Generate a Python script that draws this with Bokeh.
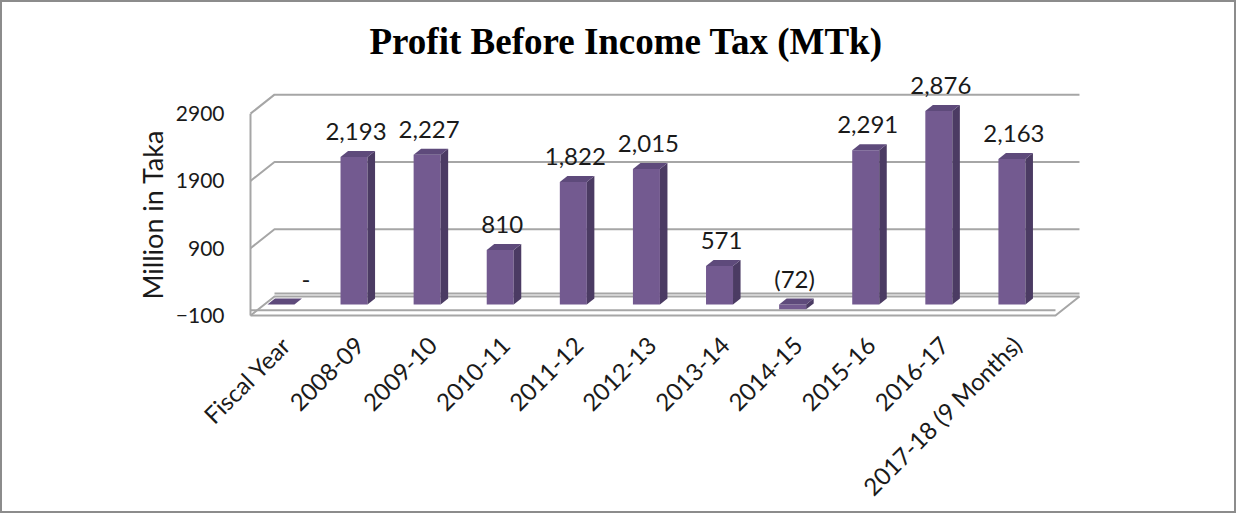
import math
from bokeh.plotting import figure
from bokeh.models import FixedTicker, Range1d, Title, ColumnDataSource, LabelSet
from bokeh.embed import file_html
from bokeh.resources import INLINE
from bokeh.core.properties import value

# ---------------- data ----------------
categories = ["Fiscal Year", "2008-09", "2009-10", "2010-11", "2011-12", "2012-13",
              "2013-14", "2014-15", "2015-16", "2016-17", "2017-18 (9 Months)"]
profit = [0, 2193, 2227, 810, 1822, 2015, 571, -72, 2291, 2876, 2163]
value_labels = ["-", "2,193", "2,227", "810", "1,822", "2,015", "571", "(72)",
                "2,291", "2,876", "2,163"]
y_ticks = [-100, 900, 1900, 2900]
title_text = "Profit Before Income Tax (MTk)"
y_title = "Million in Taka"

# ---------------- geometry / style ----------------
PX_X = 73.1          # pixels per category
PX_Y = 0.0673        # pixels per value unit
DEPTH_X = 24 / PX_X  # full depth of the 3D box, in data units
DEPTH_Y = 19 / PX_Y
F0, F1 = 0.226, 0.54  # bar depth range (fraction of the box depth)
HALF_W = 13.5 / PX_X
WALL_L, WALL_R = -0.342, 10.67
Y_MIN, Y_MAX = y_ticks[0], y_ticks[-1]

FRONT = "#735a90"
SIDE = "#4b3b63"
TOP = "#5e4a7b"
GRID = "#a6a6a6"
FONT = "Lato"
TXT = "#1a1a1a"

W, H = 1236, 513
ML, MR, MT, MB = 240, 146, 62, 193
fw, fh = W - ML - MR, H - MT - MB
x0 = -33 / PX_X
y0 = -13.7 / PX_Y

p = figure(width=W, height=H, output_backend="svg", toolbar_location=None,
           x_range=Range1d(x0, x0 + fw / PX_X), y_range=Range1d(y0, y0 + fh / PX_Y),
           min_border_left=ML, min_border_right=MR, min_border_top=MT, min_border_bottom=MB,
           background_fill_color="white", border_fill_color="white",
           outline_line_color=None,
           styles={"border": "2px solid #8c8c8c"})
p.xgrid.visible = False
p.ygrid.visible = False

p.title = Title(text=title_text, align="left", offset=127, standoff=5,
                text_font="Liberation Serif", text_font_size="37px",
                text_font_style="bold", text_color="black")

# axes
ya = p.yaxis[0]
ya.ticker = FixedTicker(ticks=y_ticks)
ya.axis_line_color = None
ya.major_tick_line_color = None
ya.minor_tick_line_color = None
ya.major_tick_out = 0
ya.major_label_standoff = 18
ya.major_label_text_font = FONT
ya.major_label_text_font_size = "21px"
ya.major_label_text_color = TXT

# vertical axis title, placed beside the tick labels
p.add_layout(Title(text=y_title, align="left", offset=23, standoff=7,
                   text_font=FONT, text_font_size="27px", text_font_style="normal",
                   text_color=TXT), "left")

# category tick positions follow the bars (a little right of the bar centre)
bar_shift = F0 * DEPTH_X
x_tick_pos = [i + bar_shift + 5 / PX_X for i in range(len(categories))]
xa = p.xaxis[0]
xa.ticker = FixedTicker(ticks=x_tick_pos)
xa.major_label_overrides = {t: c for t, c in zip(x_tick_pos, categories)}
xa.major_label_orientation = math.pi / 4
xa.axis_line_color = None
xa.major_tick_line_color = None
xa.minor_tick_line_color = None
xa.major_tick_out = 0
xa.major_label_standoff = 18
xa.major_label_text_font = FONT
xa.major_label_text_font_size = "24px"
xa.major_label_text_color = TXT

# ---------------- 3D walls ----------------
bxL, bxR = WALL_L + DEPTH_X, WALL_R + DEPTH_X
gx, gy = [], []
for t in y_ticks:
    gx.append([WALL_L, bxL, bxR]); gy.append([t, t + DEPTH_Y, t + DEPTH_Y])
gx.append([WALL_L, WALL_L]); gy.append([Y_MIN, Y_MAX])
gx.append([WALL_L, WALL_R, bxR]); gy.append([Y_MIN, Y_MIN, Y_MIN + DEPTH_Y])
gx.append([WALL_L, WALL_R]); gy.append([Y_MIN + 80, Y_MIN + 80])
gx.append([bxL, bxR]); gy.append([Y_MIN + 45 + DEPTH_Y, Y_MIN + 45 + DEPTH_Y])
p.multi_line(gx, gy, line_color=GRID, line_width=2)

# ---------------- bars ----------------
ddx = (F1 - F0) * DEPTH_X
ddy = (F1 - F0) * DEPTH_Y
cx = [i + bar_shift for i in range(len(profit))]
left = [c - HALF_W for c in cx]
right = [c + HALF_W for c in cx]
bot = [F0 * DEPTH_Y + min(v, 0) for v in profit]
top = [F0 * DEPTH_Y + max(v, 0) for v in profit]

p.quad(left=left, right=right, bottom=bot, top=top, fill_color=FRONT, line_color=None)
side_xs = [[r, r + ddx, r + ddx, r] for r in right]
side_ys = [[b, b + ddy, t + ddy, t] for b, t in zip(bot, top)]
p.patches(side_xs, side_ys, fill_color=SIDE, line_color=None)
top_xs = [[l, r, r + ddx, l + ddx] for l, r in zip(left, right)]
top_ys = [[t, t, t + ddy, t + ddy] for t in top]
p.patches(top_xs, top_ys, fill_color=TOP, line_color=None)

# ---------------- value labels ----------------
lab = ColumnDataSource(dict(
    x=[c for c, v in zip(cx, profit) if v != 0],
    y=[t + ddy for t, v in zip(top, profit) if v != 0],
    text=[s for s, v in zip(value_labels, profit) if v != 0]))
p.add_layout(LabelSet(x="x", y="y", text="text", source=lab, text_align="center",
                      text_baseline="alphabetic", x_offset=2, y_offset=11,
                      text_font=value(FONT), text_font_size=value("24px"),
                      text_color=TXT))
zero = ColumnDataSource(dict(
    x=[c for c, v in zip(cx, profit) if v == 0],
    y=[t + ddy for t, v in zip(top, profit) if v == 0],
    text=[s for s, v in zip(value_labels, profit) if v == 0]))
p.add_layout(LabelSet(x="x", y="y", text="text", source=zero, text_align="center",
                      text_baseline="alphabetic", x_offset=25, y_offset=11,
                      text_font=value(FONT), text_font_size=value("24px"),
                      text_color=TXT))

open("out.html", "w").write(file_html(p, INLINE))
